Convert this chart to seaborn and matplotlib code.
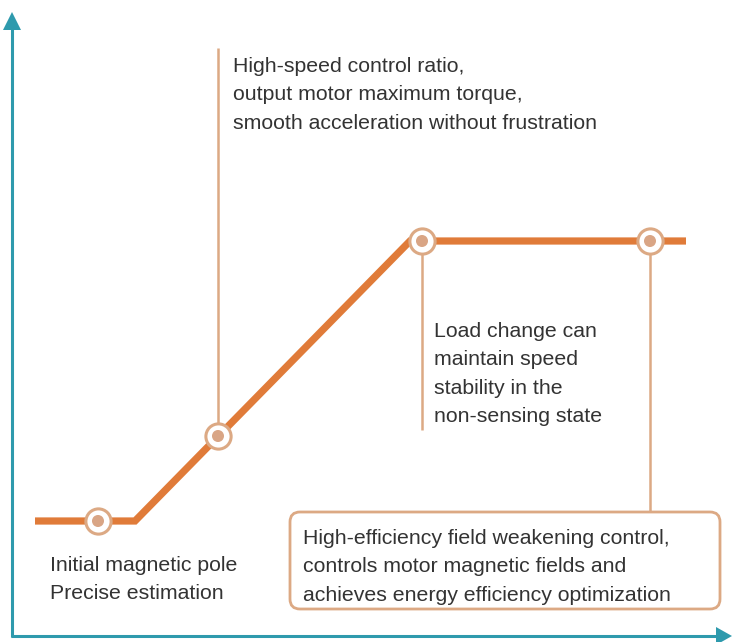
import matplotlib
matplotlib.use("Agg")
import matplotlib.pyplot as plt
import seaborn as sns
import pandas as pd
from matplotlib.patches import FancyBboxPatch

sns.set_theme(style="white")
plt.rcParams['font.family'] = ['Liberation Sans', 'DejaVu Sans']

# main curve (x, y in chart units; y grows downward like the picture)
curve_x = [35, 135, 410, 686]
curve_y = [521, 521, 241, 241]

# marker points
marker_x = [98, 218, 422, 650]
marker_y = [521, 436, 241, 241]

# connector lines: (x, y_start, y_end)
conn_x = [218, 422, 650]
conn_y0 = [48, 241, 241]
conn_y1 = [436, 430, 512]

labels = [
    "High-speed control ratio,\noutput motor maximum torque,\nsmooth acceleration without frustration",
    "Load change can\nmaintain speed\nstability in the\nnon-sensing state",
    "High-efficiency field weakening control,\ncontrols motor magnetic fields and\nachieves energy efficiency optimization",
    "Initial magnetic pole\nPrecise estimation",
]
label_x = [233, 434, 303, 50]
label_y = [57, 322, 529, 556]

ORANGE = "#e07b39"
LIGHT = "#dca984"
DOT = "#d9a585"
TEAL = "#2e9aad"
TXT = "#333333"

fig = plt.figure(figsize=(7.32, 6.42), dpi=100)
ax = fig.add_axes([0, 0, 1, 1])
ax.set_xlim(0, 732)
ax.set_ylim(642, 0)
ax.axis("off")

# connectors
for x, a, b in zip(conn_x, conn_y0, conn_y1):
    ax.plot([x, x], [a, b], color=LIGHT, lw=1.8, zorder=2, solid_capstyle="butt")

df = pd.DataFrame({"x": curve_x, "y": curve_y})
sns.lineplot(data=df, x="x", y="y", ax=ax, color=ORANGE, lw=5.2, sort=False,
             zorder=3, estimator=None)
ax.lines[-1].set_solid_joinstyle("miter")
ax.lines[-1].set_solid_capstyle("butt")

mdf = pd.DataFrame({"x": marker_x, "y": marker_y})
sns.scatterplot(data=mdf, x="x", y="y", ax=ax, s=330, color="white",
                edgecolor=LIGHT, linewidth=2.2, zorder=4)
sns.scatterplot(data=mdf, x="x", y="y", ax=ax, s=75, color=DOT,
                edgecolor="none", zorder=5)
ax.set_xlabel("")
ax.set_ylabel("")
ax.axis("off")

# axes with arrows
ax.plot([12, 12], [637, 28], color=TEAL, lw=2.2, zorder=1, solid_capstyle="butt")
ax.plot([11, 718], [636, 636], color=TEAL, lw=2.2, zorder=1, solid_capstyle="butt")
ax.fill([3, 21, 12], [30, 30, 12], color=TEAL, lw=0, zorder=1)
ax.fill([716, 716, 732], [627, 645, 636], color=TEAL, lw=0, zorder=1)

# box
box = FancyBboxPatch((290, 512), 430, 97, boxstyle="round,pad=0,rounding_size=10",
                     fc="white", ec=LIGHT, lw=2.0, zorder=2)
ax.add_patch(box)

for t, x, y in zip(labels, label_x, label_y):
    ax.text(x, y, t, fontsize=15.3, color=TXT, ha="left", va="top",
            linespacing=1.63, zorder=6)

fig.savefig("out.png", dpi=100)
